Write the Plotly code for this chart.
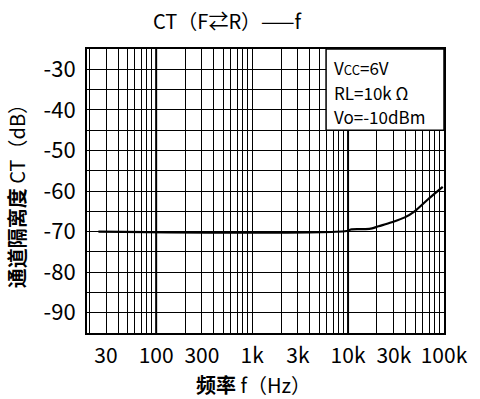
import plotly.graph_objects as go

# data
freq = [25, 10000, 10650, 15000, 17800, 20800, 28500, 39000, 49400, 67800, 97000]
ct = [-70, -69.8, -69.5, -69.4, -69.2, -68.7, -67.7, -66.5, -65.0, -62.1, -59.0]

x_tickvals = [30, 100, 300, 1000, 3000, 10000, 30000, 100000]
x_ticktext = ["30", "100", "300", "1k", "3k", "10k", "30k", "100k"]
x_grid = [m * 10 ** e for e in range(1, 5) for m in range(2, 10)] + [100, 1000, 10000]
x_decades = [100, 10000]
y_tickvals = [-30, -40, -50, -60, -70, -80, -90]
y_ticktext = ["-30", "-40", "-50", "-60", "-70", "-80", "-90"]

note_lines = ["V<span style='font-size:13px'>CC</span>=6V", "RL=10k Ω", "Vo=-10dBm"]

FONT = "Noto Sans CJK SC"

fig = go.Figure()
fig.add_trace(go.Scatter(x=freq, y=ct, mode="lines", line_shape="spline",
                         line=dict(color="black", width=2.2), hoverinfo="skip"))

fig.update_layout(
    width=480, height=399,
    margin=dict(l=87, r=29, t=49, b=66),
    paper_bgcolor="white", plot_bgcolor="white",
    showlegend=False,
    font=dict(family=FONT, color="black", size=20),
    xaxis=dict(type="log", range=[1.279, 5.0],
               tickvals=x_tickvals, ticktext=x_ticktext,
               showgrid=False, zeroline=False, ticks="",
               showline=True, mirror=True, linecolor="black", linewidth=2,
               tickfont=dict(size=21, family=FONT),
               ticklabelstandoff=3,
               minor=dict(tickvals=x_grid, showgrid=True, gridcolor="black",
                          gridwidth=1, ticks="")),
    yaxis=dict(range=[-95, -25], tickvals=y_tickvals, ticktext=y_ticktext,
               showgrid=True, gridcolor="black", gridwidth=1, zeroline=False,
               ticks="", showline=True, mirror=True, linecolor="black", linewidth=2,
               tickfont=dict(size=22, family=FONT), ticklabelstandoff=5,
               minor=dict(dtick=5, showgrid=True, gridcolor="black", gridwidth=1, ticks="")),
)

for xd in x_decades:
    fig.add_shape(type="line", xref="x", yref="paper", x0=xd, x1=xd, y0=0, y1=1,
                  line=dict(color="black", width=2), layer="below")

# note box
fig.add_shape(type="rect", xref="x", yref="y", x0=5900, x1=100000, y0=-45, y1=-25,
              fillcolor="white", line=dict(color="black", width=1.5), layer="above")
note_y = [0.935, 0.848, 0.762]
for t, yy in zip(note_lines, note_y):
    fig.add_annotation(text=t, xref="paper", yref="paper", x=0.686, y=yy,
                       xanchor="left", yanchor="middle", showarrow=False,
                       font=dict(size=17, family=FONT))

fig.add_annotation(text="CT（F⇄R）——f", xref="paper", yref="paper",
                   x=0.396, y=1.102, xanchor="center", yanchor="middle",
                   showarrow=False, font=dict(size=20, family=FONT))
fig.add_annotation(text="<b>频率</b> f（Hz）", xref="paper", yref="paper",
                   x=0.467, y=-0.183, xanchor="center", yanchor="middle",
                   showarrow=False, font=dict(size=20, family=FONT))
fig.add_annotation(text="<b>通道隔离度</b> CT（dB）", xref="paper", yref="paper",
                   x=-0.198, y=0.5, xanchor="center", yanchor="middle", textangle=-90,
                   showarrow=False, font=dict(size=20, family=FONT))

fig.write_html("out.html")
